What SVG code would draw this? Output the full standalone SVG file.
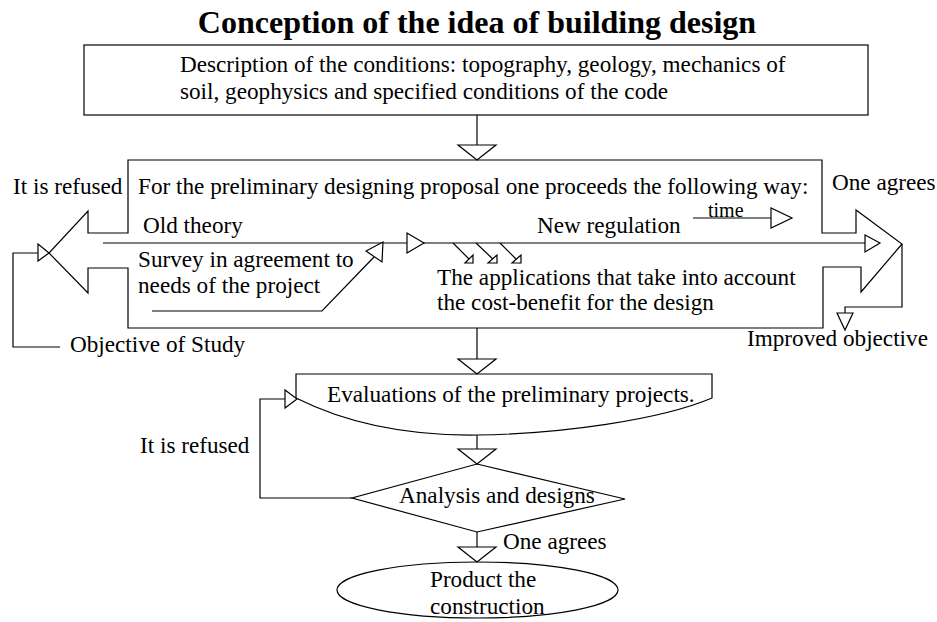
<svg xmlns="http://www.w3.org/2000/svg" width="937" height="622" viewBox="0 0 937 622">
<style>
.s{fill:none;stroke:#000;stroke-width:1.2}
.h{fill:#fff;stroke:#000;stroke-width:1.2}
text{font-family:"Liberation Serif","Times New Roman",serif;font-size:23.2px;fill:#000}
.t{font-weight:bold;font-size:32px}
.m{font-size:20px}
</style>
<rect width="937" height="622" fill="#fff"/>
<text class="t" x="477" y="33" text-anchor="middle">Conception of the idea of building design</text>
<g id="conditions">
<rect class="s" x="84" y="45" width="784" height="70"/>
<text x="180" y="72">Description of the conditions: topography, geology, mechanics of</text>
<text x="180" y="99">soil, geophysics and specified conditions of the code</text>
</g>
<g id="proposal">
<path class="s" d="M128,160 H822 V233 H856 V210 L902,244 L861,292 V267 H823 V328 H128 V268 H88 V293 L49,253 L88,211 V233 H128 Z"/>
<text x="138" y="194">For the preliminary designing proposal one proceeds the following way:</text>
<text x="143" y="233">Old theory</text>
<text x="537" y="233">New regulation</text>
<text x="138" y="267">Survey in agreement to</text>
<text x="138" y="293">needs of the project</text>
<text x="437" y="285">The applications that take into account</text>
<text x="437" y="310">the cost-benefit for the design</text>
<text class="m" x="708" y="216.5">time</text>
</g>
<g id="evaluation">
<path class="s" d="M296,398 V374 H712 V398 C660,420 560,434 477,435 C400,436 340,420 296,398 Z"/>
<text x="327" y="402">Evaluations of the preliminary projects.</text>
</g>
<g id="analysis">
<polygon class="s" points="477,464 625,499 477,532 352,498"/>
<text x="399" y="503">Analysis and designs</text>
</g>
<g id="product">
<ellipse class="s" cx="477.5" cy="590" rx="140.5" ry="28"/>
<text x="430" y="587">Product the</text>
<text x="430" y="614">construction</text>
</g>
<g id="labels">
<text x="13" y="194">It is refused</text>
<text x="832" y="190">One agrees</text>
<text x="70" y="352">Objective of Study</text>
<text x="747" y="346">Improved objective</text>
<text x="140" y="453">It is refused</text>
<text x="503" y="549">One agrees</text>
</g>
<g id="connectors">
<path class="s" d="M477,115 V145"/>
<polygon class="h" points="458,145 496,145 477,160"/>
<path class="s" d="M103,243 H865"/>
<polygon class="h" points="407,233 407,253 424,243"/>
<polygon class="h" points="865,235 865,252 880,243"/>
<path class="s" d="M152,311 H322 L374,257"/>
<polygon class="h" points="383,242 366,251 382,262"/>
<path class="s" d="M453,243 L473,263 M476,243 L497,263 M500,243 L520,263"/>
<polygon class="h" points="465,263 473,263 473,255"/>
<polygon class="h" points="488,263 497,263 497,255"/>
<polygon class="h" points="512,263 521,263 521,255"/>
<path class="s" d="M693,218 H771"/>
<polygon class="h" points="771,208 771,228 792,218"/>
<path class="s" d="M60,347 H13 V253 H38"/>
<polygon class="h" points="38,244 38,261 49,253"/>
<path class="s" d="M902,244 V307 H845 V313"/>
<polygon class="h" points="837,313 853,313 845,330"/>
<path class="s" d="M477,328 V359"/>
<polygon class="h" points="458,359 496,359 477,374"/>
<path class="s" d="M352,498 H260 V399 H285"/>
<polygon class="h" points="285,390 285,408 297,399"/>
<path class="s" d="M477,435 V449"/>
<polygon class="h" points="458,449 496,449 477,464"/>
<path class="s" d="M477,532 V547"/>
<polygon class="h" points="458,547 496,547 477,562"/>
</g>
</svg>
